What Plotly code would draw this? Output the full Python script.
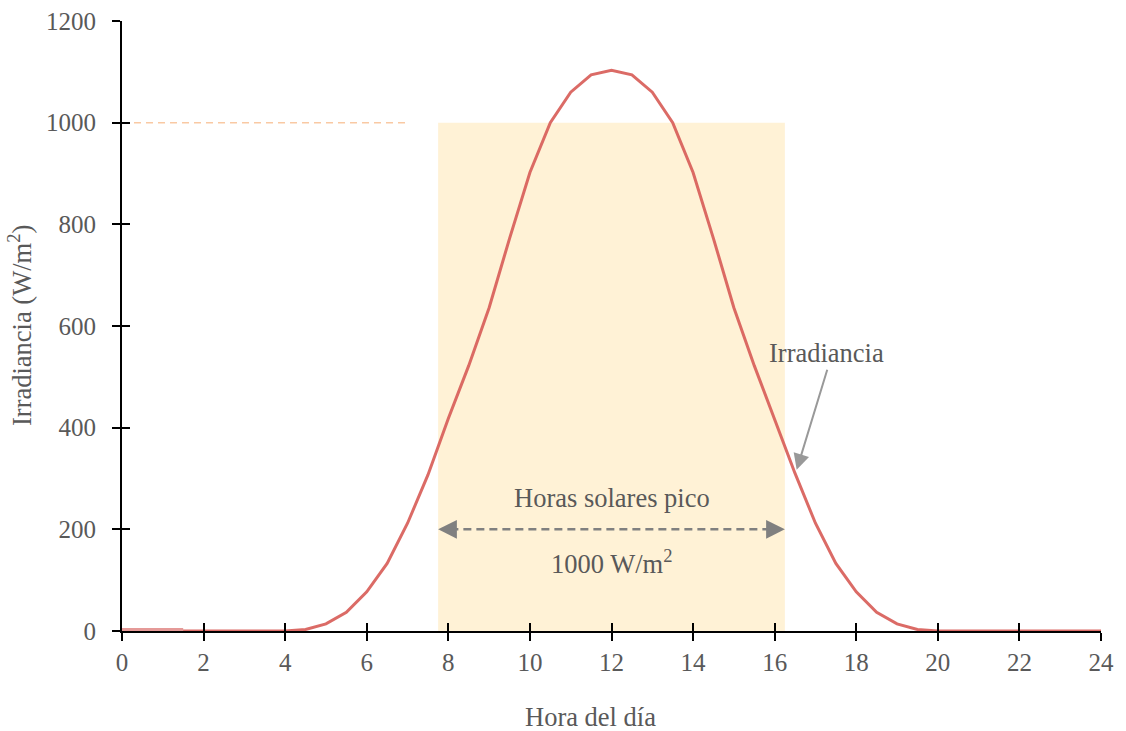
import plotly.graph_objects as go

# ---- data ----
hours = [0, 0.5, 1, 1.5, 2, 2.5, 3, 3.5, 4, 4.5, 5, 5.5, 6, 6.5, 7, 7.5, 8, 8.5, 9, 9.5,
         10, 10.5, 11, 11.5, 12, 12.5, 13, 13.5, 14, 14.5, 15, 15.5, 16, 16.5, 17, 17.5,
         18, 18.5, 19, 19.5, 20, 20.5, 21, 21.5, 22, 22.5, 23, 23.5, 24]
irradiance = [0, 0, 0, 0, 0, 0, 0, 0, 0, 3, 14, 37, 77, 133, 212, 307, 418, 522, 636, 772,
              902, 1000, 1060, 1094, 1103, 1094, 1060, 1000, 902, 772, 636, 522, 418, 310, 212, 133,
              77, 37, 14, 3, 0, 0, 0, 0, 0, 0, 0, 0, 0]
light_seg_hours = [0, 1.5]
light_seg_vals = [3, 3]

peak_start, peak_end, peak_level = 7.75, 16.25, 1000
ref_line_x = [0, 7]
arrow_level = 200

x_ticks = list(range(0, 25, 2))
y_ticks = list(range(0, 1201, 200))

FONT = "Liberation Serif"
TXT = "#595959"
RED = "#d95f5a"

fig = go.Figure()

fig.add_trace(go.Scatter(x=hours, y=irradiance, mode="lines",
                         line=dict(color=RED, width=3), opacity=0.92,
                         hoverinfo="skip", showlegend=False))
fig.add_trace(go.Scatter(x=light_seg_hours, y=light_seg_vals, mode="lines",
                         line=dict(color="#e59a98", width=3),
                         hoverinfo="skip", showlegend=False))
# dashed double arrow shaft
fig.add_trace(go.Scatter(x=[peak_start + 0.3, peak_end - 0.3], y=[arrow_level, arrow_level],
                         mode="lines", line=dict(color="#808080", width=2.5, dash="8px,5px"),
                         hoverinfo="skip", showlegend=False))
# invisible trace for overlay axes (inside ticks)
fig.add_trace(go.Scatter(x=[0], y=[0], xaxis="x2", yaxis="y2", mode="markers",
                         marker=dict(opacity=0), hoverinfo="skip", showlegend=False))

fig.add_shape(type="rect", x0=peak_start, x1=peak_end, y0=0, y1=peak_level,
              fillcolor="#FFF2D6", line=dict(width=0), layer="below")
fig.add_shape(type="line", x0=ref_line_x[0], x1=ref_line_x[1], y0=peak_level, y1=peak_level,
              line=dict(color="#F9C9A3", width=1.5, dash="7px,5px"), layer="below")

ann_font = dict(family=FONT, size=26.5, color=TXT)
annotations = [
    dict(x=12, y=262, xref="x", yref="y", text="Horas solares pico", showarrow=False,
         font=ann_font, xanchor="center", yanchor="middle"),
    dict(x=12, y=136, xref="x", yref="y", text="1000 W/m<sup>2</sup>", showarrow=False,
         font=ann_font, xanchor="center", yanchor="middle"),
    dict(x=17.27, y=547, xref="x", yref="y", text="Irradiancia", showarrow=False,
         font=ann_font, xanchor="center", yanchor="middle"),
    # arrow to the curve
    dict(x=16.54, y=317, ax=17.3, ay=517, xref="x", yref="y", axref="x", ayref="y",
         text="", showarrow=True, arrowhead=2, arrowsize=1.6, arrowwidth=2,
         arrowcolor="#999999"),
    # double arrow heads
    dict(x=peak_start, y=arrow_level, ax=peak_start + 0.35, ay=arrow_level, xref="x", yref="y",
         axref="x", ayref="y", text="", showarrow=True, arrowhead=2, arrowsize=1.5,
         arrowwidth=2.5, arrowcolor="#808080"),
    dict(x=peak_end, y=arrow_level, ax=peak_end - 0.35, ay=arrow_level, xref="x", yref="y",
         axref="x", ayref="y", text="", showarrow=True, arrowhead=2, arrowsize=1.5,
         arrowwidth=2.5, arrowcolor="#808080"),
    # axis titles
    dict(x=0.479, y=-0.141, xref="paper", yref="paper", text="Hora del día", showarrow=False,
         font=ann_font, xanchor="center", yanchor="middle"),
    dict(x=0, y=0.5, xref="paper", yref="paper", xshift=-102, text="Irradiancia (W/m<sup>2</sup>)",
         showarrow=False, textangle=-90, font=ann_font, xanchor="center", yanchor="middle"),
]

axis_common = dict(showgrid=False, zeroline=False, automargin=False)
fig.update_layout(
    width=1126, height=731,
    margin=dict(l=122, r=25, t=21, b=100, autoexpand=False),
    paper_bgcolor="white", plot_bgcolor="white",
    font=dict(family=FONT, size=25, color=TXT),
    showlegend=False,
    annotations=annotations,
    xaxis=dict(range=[0, 24], tickvals=x_ticks, ticks="outside", ticklen=8, tickwidth=2,
               tickcolor="black", showline=True, linecolor="black", linewidth=2,
               tickfont=dict(family=FONT, size=25, color=TXT), ticklabelstandoff=0,
               layer="below traces", **axis_common),
    yaxis=dict(range=[0, 1200], tickvals=y_ticks, ticks="outside", ticklen=8, tickwidth=2,
               tickcolor="black", showline=True, linecolor="black", linewidth=2,
               tickfont=dict(family=FONT, size=25, color=TXT), ticklabelstandoff=11,
               layer="below traces", **axis_common),
    xaxis2=dict(range=[0, 24], tickvals=x_ticks, ticks="inside", ticklen=8, tickwidth=2,
                tickcolor="black", showticklabels=False, showline=False,
                overlaying="x", anchor="y2", side="bottom", **axis_common),
    yaxis2=dict(range=[0, 1200], tickvals=y_ticks, ticks="inside", ticklen=8, tickwidth=2,
                tickcolor="black", showticklabels=False, showline=False,
                overlaying="y", anchor="x2", side="left", **axis_common),
)

fig.write_html("out.html", config={"displayModeBar": False},
               post_script="document.body.style.margin='0';document.body.style.overflow='hidden';")
